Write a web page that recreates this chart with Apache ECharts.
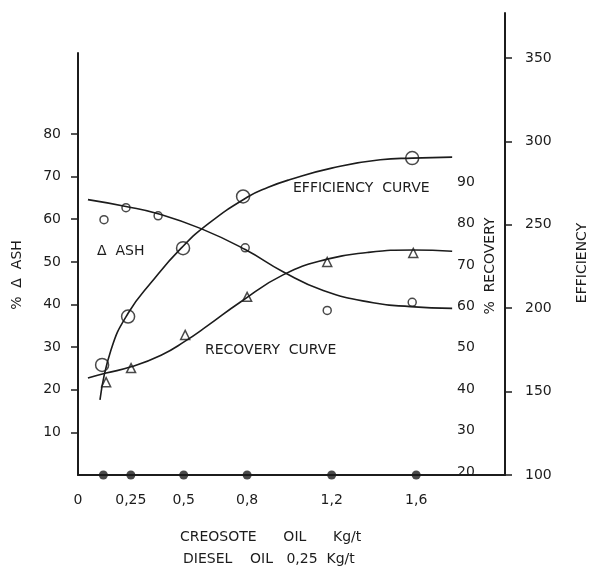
<!DOCTYPE html>
<html><head><meta charset="utf-8">
<script src="https://cdn.jsdelivr.net/npm/echarts@6/dist/echarts.min.js"></script>
<style>html,body{margin:0;padding:0;background:#fff}#c{width:589px;height:573px}</style>
</head><body><div id="c"></div>
<script>
// ---- data ----
const xTicks = [0, 0.25, 0.5, 0.8, 1.2, 1.6];
const ashTicks = [10, 20, 30, 40, 50, 60, 70, 80];
const recoveryTicks = [20, 30, 40, 50, 60, 70, 80, 90];
const efficiencyTicks = [100, 150, 200, 250, 300, 350];

const doseDots = [0.12, 0.25, 0.5, 0.8, 1.2, 1.6];

const ashPoints = [[0.123, 59.9], [0.227, 62.7], [0.379, 60.8], [0.791, 53.3], [1.179, 38.6], [1.581, 40.5]];
const ashCurve = [[0.047, 64.6], [0.227, 63.0], [0.379, 61.3], [0.582, 57.8], [0.791, 52.9], [0.97, 47.7], [1.16, 43.3], [1.396, 40.4], [1.572, 39.5], [1.77, 39.1]];

const recoveryPoints = [[0.133, 41.7], [0.251, 45.1], [0.507, 53.1], [0.80, 62.3], [1.179, 70.7], [1.586, 72.9]];
const recoveryCurve = [[0.047, 42.7], [0.133, 43.9], [0.251, 45.4], [0.393, 48.2], [0.507, 51.6], [0.615, 55.4], [0.767, 61.0], [0.97, 67.6], [1.179, 71.4], [1.368, 73.0], [1.586, 73.6], [1.77, 73.3]];

const efficiencyPoints = [[0.114, 166], [0.237, 195], [0.497, 236], [0.781, 267], [1.581, 290]];
const efficiencyCurve = [[0.104, 145], [0.156, 175], [0.237, 197], [0.35, 216], [0.488, 236], [0.62, 251], [0.80, 266.5], [0.9, 272.5], [1.0, 277], [1.2, 284], [1.43, 289], [1.581, 290], [1.77, 290.6]];

// ---- chart ----
const INK = '#1c1c1c';
const FONT = 'DejaVu Sans';
const FS = 14;
const chart = echarts.init(document.getElementById('c'), null, {renderer: 'canvas'});
const lbl = {color: INK, fontFamily: FONT, fontSize: FS};

function txt(x, y, s, rot, align) {
  return {
    type: 'text', x: x, y: y, rotation: rot || 0, silent: true,
    style: {text: s, fill: INK, font: FS + 'px "' + FONT + '"',
      textAlign: align || 'left', align: align || 'left',
      textVerticalAlign: 'middle', verticalAlign: 'middle'}
  };
}

const curveStyle = {color: INK, width: 1.6};
const option = {
  animation: false,
  backgroundColor: '#ffffff',
  grid: [
    {left: 78, right: 84, top: 53, bottom: 98},
    {left: 78, right: 84, top: 13, bottom: 98}
  ],
  xAxis: [
    {gridIndex: 0, type: 'value', min: 0, max: 2.02, show: false},
    {gridIndex: 1, type: 'value', min: 0, max: 2.02,
      axisLine: {onZero: false, lineStyle: {color: INK, width: 2}},
      axisTick: {show: false}, splitLine: {show: false},
      axisLabel: Object.assign({}, lbl, {customValues: xTicks, margin: 18,
        formatter: v => String(v).replace('.', ',')})}
  ],
  yAxis: [
    {gridIndex: 0, type: 'value', position: 'left', min: 0, max: 99,
      axisLine: {show: true, onZero: false, lineStyle: {color: INK, width: 2}},
      axisTick: {show: true, customValues: ashTicks, length: 7, lineStyle: {color: INK, width: 1.5}},
      axisLabel: Object.assign({}, lbl, {customValues: ashTicks, margin: 17}),
      splitLine: {show: false}},
    {gridIndex: 1, type: 'value', position: 'right', offset: -48, min: 19.3, max: 130.8,
      axisLine: {show: false}, axisTick: {show: false},
      axisLabel: Object.assign({}, lbl, {customValues: recoveryTicks, margin: 0}),
      splitLine: {show: false}},
    {gridIndex: 1, type: 'value', position: 'right', min: 100, max: 377,
      axisLine: {show: true, onZero: false, lineStyle: {color: INK, width: 2}},
      axisTick: {show: true, customValues: efficiencyTicks, length: 7, lineStyle: {color: INK, width: 1.5}},
      axisLabel: Object.assign({}, lbl, {customValues: efficiencyTicks, margin: 20}),
      splitLine: {show: false}}
  ],
  series: [
    {type: 'line', name: 'ash curve', xAxisIndex: 0, yAxisIndex: 0, data: ashCurve,
      smooth: 0.5, showSymbol: false, lineStyle: curveStyle, silent: true},
    {type: 'scatter', name: 'ash', xAxisIndex: 0, yAxisIndex: 0, data: ashPoints,
      symbol: 'circle', symbolSize: 8,
      itemStyle: {color: 'rgba(0,0,0,0)', borderColor: INK, borderWidth: 1.5}},
    {type: 'line', name: 'recovery curve', xAxisIndex: 1, yAxisIndex: 1, data: recoveryCurve,
      smooth: 0.5, showSymbol: false, lineStyle: curveStyle, silent: true},
    {type: 'scatter', name: 'recovery', xAxisIndex: 1, yAxisIndex: 1, data: recoveryPoints,
      symbol: 'triangle', symbolSize: 9,
      itemStyle: {color: 'rgba(0,0,0,0)', borderColor: INK, borderWidth: 1.5}},
    {type: 'line', name: 'efficiency curve', xAxisIndex: 1, yAxisIndex: 2, data: efficiencyCurve,
      smooth: 0.5, showSymbol: false, lineStyle: curveStyle, silent: true},
    {type: 'scatter', name: 'efficiency', xAxisIndex: 1, yAxisIndex: 2, data: efficiencyPoints,
      symbol: 'circle', symbolSize: 13,
      itemStyle: {color: 'rgba(0,0,0,0)', borderColor: INK, borderWidth: 1.5}},
    {type: 'scatter', name: 'dose', xAxisIndex: 0, yAxisIndex: 0, clip: false,
      data: doseDots.map(d => [d, 0]), symbol: 'circle', symbolSize: 9,
      itemStyle: {color: INK}}
  ],
  graphic: [
    txt(293, 188, 'EFFICIENCY  CURVE'),
    txt(205, 350, 'RECOVERY  CURVE'),
    txt(97, 251, 'Δ  ASH'),
    txt(17, 275, '%  Δ  ASH', Math.PI / 2, 'center'),
    txt(490, 266, '%  RECOVERY', Math.PI / 2, 'center'),
    txt(582, 263, 'EFFICIENCY', Math.PI / 2, 'center'),
    txt(180, 537, 'CREOSOTE      OIL      Kg/t'),
    txt(183, 559, 'DIESEL    OIL   0,25  Kg/t')
  ]
};
chart.setOption(option);
</script>
</body></html>
